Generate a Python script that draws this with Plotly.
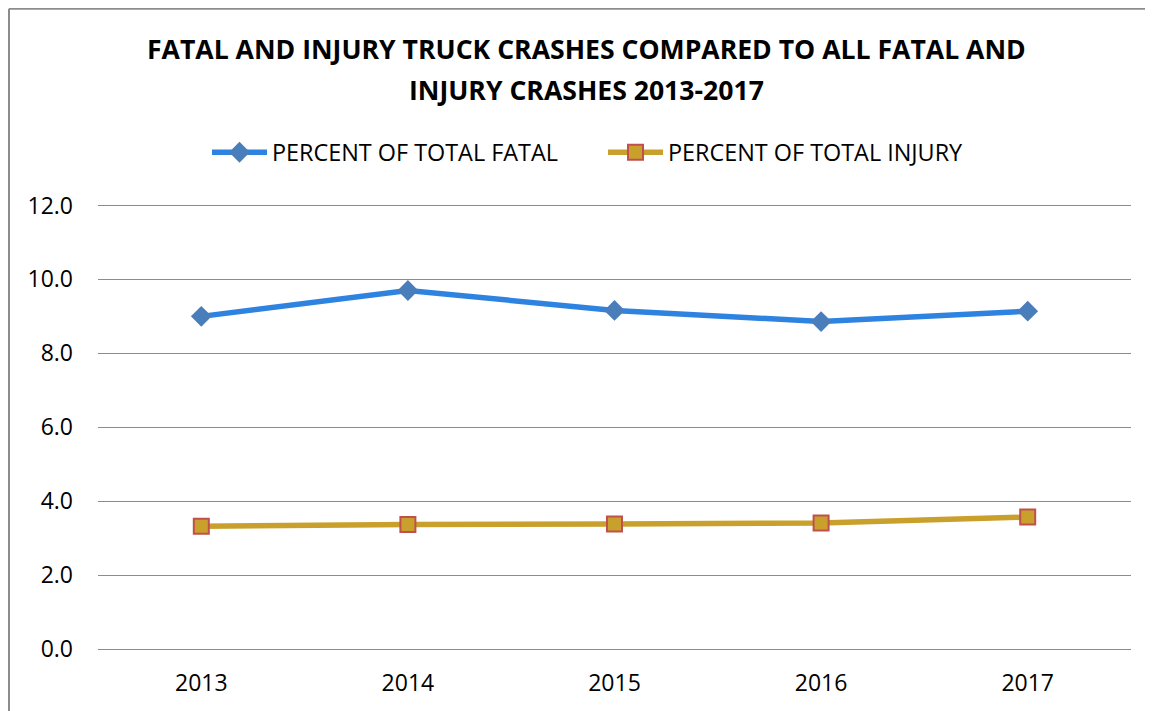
import plotly.graph_objects as go

years = ["2013", "2014", "2015", "2016", "2017"]
pct_fatal = [9.0, 9.70, 9.16, 8.86, 9.14]
pct_injury = [3.32, 3.37, 3.38, 3.41, 3.57]
y_ticks = [0, 2, 4, 6, 8, 10, 12]
y_tick_labels = ["0.0", "2.0", "4.0", "6.0", "8.0", "10.0", "12.0"]
title_lines = ["FATAL AND INJURY TRUCK CRASHES COMPARED TO ALL FATAL AND",
               "INJURY CRASHES 2013-2017"]

# page is rendered with an 8px body margin; work in page coordinates
OFF = 8
Y_MAX = 12.04
W, H = 1153 - OFF, 711 - OFF
PL, PR, PB = 98, 1131, 649  # plot area in page pixels
PT = PB - (PB - 205) * Y_MAX / 12.0
L, T = PL - OFF, PT - OFF
R = W - (PR - OFF)
B = H - (PB - OFF)
pw, ph = W - L - R, H - T - B

def px_x(x):
    return (x - OFF - L) / pw

def px_y(y):
    return (PB - y) / ph

fig = go.Figure()
fig.add_trace(go.Scatter(
    x=years, y=pct_fatal, mode="lines+markers", name="PERCENT OF TOTAL FATAL",
    line=dict(color="#2F83E0", width=5.5),
    marker=dict(symbol="diamond", size=16, color="#4A7EBB", line=dict(width=0)),
))
fig.add_trace(go.Scatter(
    x=years, y=pct_injury, mode="lines+markers", name="PERCENT OF TOTAL INJURY",
    line=dict(color="#C9A02C", width=5.5),
    marker=dict(symbol="square", size=15, color="#C9A02C", line=dict(width=2, color="#C0504D")),
))

font_family = "Open Sans, Liberation Sans, sans-serif"

annotations = []
for txt, yy in zip(title_lines, [48, 89]):
    annotations.append(dict(
        text="<b>%s</b>" % txt, xref="paper", yref="paper", x=px_x(586), y=px_y(yy),
        xanchor="center", yanchor="middle", showarrow=False,
        font=dict(size=26.6, family=font_family, color="black"),
    ))

fig.update_layout(
    width=W, height=H,
    margin=dict(l=L, r=R, t=T, b=B, autoexpand=False),
    paper_bgcolor="white", plot_bgcolor="white",
    font=dict(family=font_family, size=23, color="black"),
    showlegend=True,
    legend=dict(
        orientation="h", x=px_x(207), y=px_y(152), xanchor="left", yanchor="middle",
        font=dict(size=23.4, family=font_family, color="black"),
        entrywidth=326, itemwidth=55, bgcolor="rgba(0,0,0,0)", tracegroupgap=0,
    ),
    xaxis=dict(
        type="category", range=[-0.5, 4.5], showgrid=False, showline=False,
        ticks="", tickfont=dict(size=23), ticklabelstandoff=18,
    ),
    yaxis=dict(
        range=[0, Y_MAX], tickvals=y_ticks, ticktext=y_tick_labels,
        showgrid=True, gridcolor="#8C8C8C", gridwidth=1, zeroline=True,
        zerolinecolor="#8C8C8C", zerolinewidth=1, showline=False, ticks="",
        tickfont=dict(size=23), ticklabelstandoff=24,
    ),
    annotations=annotations,
    shapes=[
        dict(type="line", xref="paper", yref="paper", x0=px_x(9), x1=px_x(9), y0=px_y(720), y1=px_y(8),
             line=dict(color="#8C8C8C", width=2)),
        dict(type="line", xref="paper", yref="paper", x0=px_x(9), x1=px_x(1170), y0=px_y(8), y1=px_y(8),
             line=dict(color="#8C8C8C", width=2)),
    ],
)

fig.write_html("out.html")
